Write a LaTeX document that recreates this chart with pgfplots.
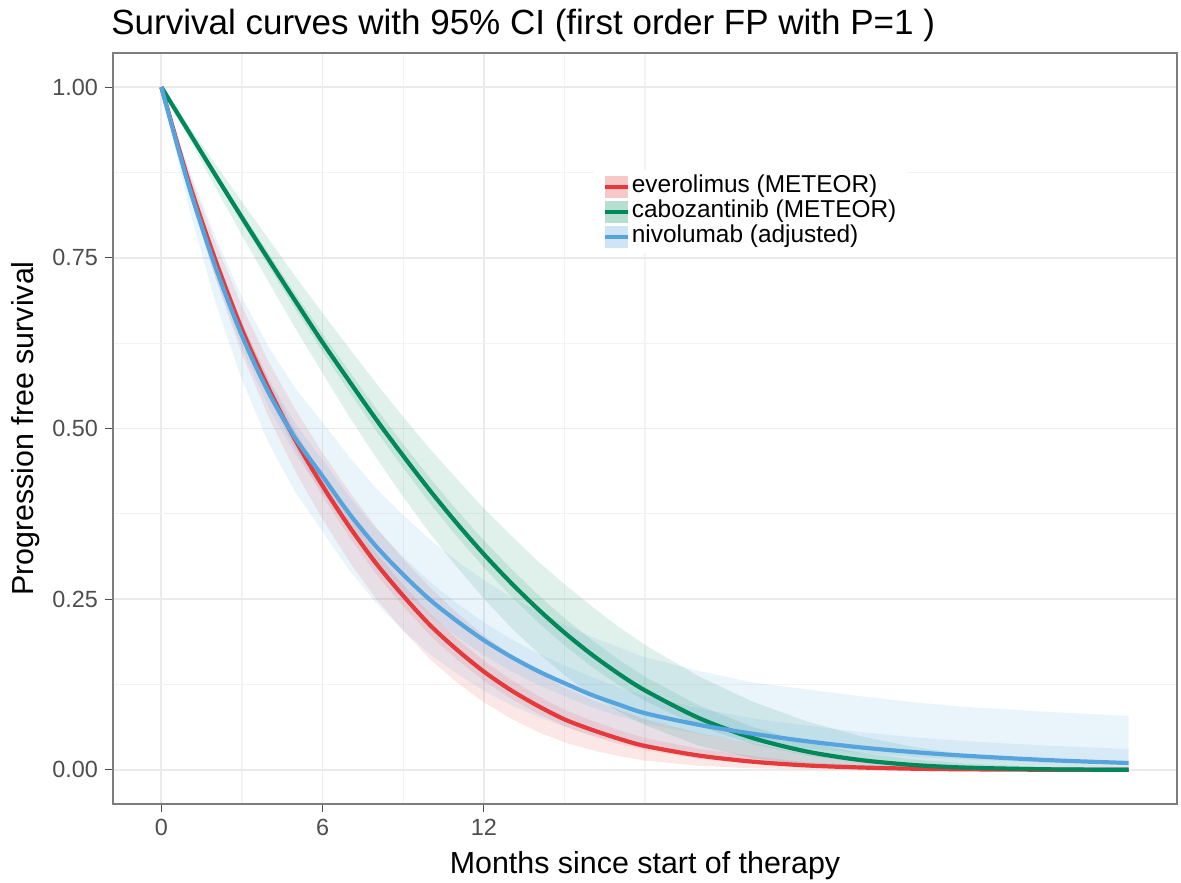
\documentclass[border=0pt]{standalone}
\usepackage{fontspec}
\setmainfont{Liberation Sans}
\usepackage{pgfplots}
\usepackage{pgfplotstable}
\pgfplotsset{compat=1.18}

\definecolor{cred}{RGB}{230,57,60}
\definecolor{cgreen}{RGB}{0,135,90}
\definecolor{cblue}{RGB}{86,164,221}
\definecolor{gridc}{RGB}{235,235,235}
\definecolor{gridm}{RGB}{243,243,243}
\definecolor{tickc}{RGB}{77,77,77}
\definecolor{borderc}{RGB}{125,125,125}

% fitted survival, months
\pgfplotstableread{
t evero cabo nivo
0 1 1 1
1 .864 .936 .858
2 .748 .872 .738
3 .645 .809 .636
4 .558 .747 .552
5 .482 .686 .485
6 .416 .626 .430
7 .356 .569 .375
8 .302 .513 .327
9 .255 .460 .286
10 .212 .409 .249
11 .176 .361 .218
12 .144 .316 .190
13 .117 .2745 .166
14 .094 .2361 .145
15 .074 .2011 .127
16 .059 .1695 .110
17 .046 .1413 .096
18 .035 .1164 .083
20 .021 .0760 .066
22 .012 .0468 .053
24 .0065 .0270 .042
26 .0035 .0145 .033
28 .0017 .0071 .026
30 .0008 .0032 .0205
33 .0002 .0008 .0143
36 .0001 .0001 .010
}\surv

% ribbons as closed outlines: upper bound forward, lower bound back
% o = wide band, i = narrow band
\pgfplotstableread{
x o i
0 1 1
1 .878 .8682
2 .773 .7555
3 .679 .6552
4 .597 .570
5 .527 .4955
6 .464 .4304
7 .407 .3713
8 .355 .3179
9 .309 .2712
10 .267 .2285
11 .230 .1922
12 .197 .1599
13 .169 .1326
14 .144 .109
15 .121 .0881
16 .1037 .0724
17 .0883 .0587
18 .0740 .0467
20 .0539 .0309
22 .0395 .0203
24 .022 .0112
26 .015 .007
28 .010 .0042
30 .006 .0024
33 .003 .0010
36 .0015 .0005
36 0 .0001
33 0 .0001
30 0 .0006
28 0 .0012
26 .0002 .0025
24 .0008 .0048
22 .0024 .0091
20 .0060 .0165
18 .0135 .0290
17 .0203 .0382
16 .0292 .0501
15 .0403 .0639
14 .0559 .0826
13 .0754 .1045
12 .099 .1305
11 .128 .1616
10 .162 .197
9 .204 .2397
8 .250 .2864
7 .305 .3407
6 .367 .4013
5 .436 .4682
4 .516 .5454
3 .609 .6342
2 .721 .7399
1 .848 .8592
0 1 1
}\everoband

\pgfplotstableread{
x o i
0 1 1
1 .944 .938
2 .888 .8768
3 .832 .8159
4 .777 .756
5 .722 .6968
6 .669 .6389
7 .617 .5834
8 .566 .5289
9 .517 .4771
10 .470 .4273
11 .426 .3805
12 .383 .3361
13 .344 .2954
14 .306 .2571
15 .272 .2224
16 .240 .1907
17 .210 .1619
18 .183 .1364
20 .137 .0943
22 .100 .0628
24 .0713 .0403
26 .0495 .025
28 .0335 .0150
30 .0221 .0089
33 .0112 .0039
36 .0054 .0017
36 0 .0001
33 0 .0006
30 .0002 .0023
28 .0008 .0052
26 .0026 .0109
24 .0072 .0211
22 .0170 .0379
20 .0353 .0638
18 .0655 .1011
17 .0859 .1248
16 .110 .1517
15 .139 .1825
14 .172 .2169
13 .209 .2549
12 .251 .2965
11 .297 .3418
10 .346 .3901
9 .400 .442
8 .457 .4962
7 .517 .5534
6 .581 .6125
5 .646 .674
4 .714 .7371
3 .783 .8012
2 .854 .8666
1 .927 .933
0 1 1
}\caboband

\pgfplotstableread{
x o i
0 1 1
1 .883 .866
2 .782 .751
3 .692 .653
4 .619 .572
5 .558 .507
6 .509 .454
7 .458 .400
8 .412 .353
9 .373 .312
10 .337 .275
11 .306 .244
12 .278 .216
13 .254 .192
14 .232 .171
15 .213 .153
16 .195 .136
17 .180 .121
18 .165 .108
20 .145 .090
22 .128 .0755
24 .118 .0648
26 .108 .0555
28 .099 .0479
30 .092 .042
33 .085 .0355
36 .079 .0307
36 .0001 .0071
33 .0005 .0102
30 .0014 .0148
28 .0027 .019
26 .0048 .0245
24 .0083 .0319
22 .0137 .0412
20 .0211 .0525
18 .0322 .068
17 .0408 .079
16 .0508 .092
15 .0636 .108
14 .078 .125
13 .095 .145
12 .116 .168
11 .141 .195
10 .169 .225
9 .204 .261
8 .244 .302
7 .292 .350
6 .349 .406
5 .406 .461
4 .478 .530
3 .571 .617
2 .686 .722
1 .827 .849
0 1 1
}\nivoband

\begin{document}
\begin{tikzpicture}
\path[use as bounding box] (0,0) rectangle (590.5pt,441pt);
\begin{axis}[
  name=ax, at={(56.5pt,39pt)}, anchor=south west,
  scale only axis, width=532pt, height=375.5pt,
  xmin=-1.8, xmax=37.8, ymin=-0.05, ymax=1.05,
  xtick={0,6,12}, xticklabels={0,6,12},
  minor xtick={3,9,15,18},
  ytick={0,0.25,0.5,0.75,1}, yticklabels={0.00,0.25,0.50,0.75,1.00},
  minor ytick={0.125,0.375,0.625,0.875},
  grid=both,
  major grid style={draw=gridc, line width=0.9pt},
  minor grid style={draw=gridm, line width=0.6pt},
  minor tick length=0pt,
  major tick length=4pt,
  tick align=outside, tick pos=left,
  tick style={draw=tickc, line width=0.6pt},
  axis line style={draw=borderc, line width=0.7pt},
  ticklabel style={font=\fontsize{11.7}{12}\selectfont, text=tickc},
  legend style={at={(0.452,0.8447)}, anchor=north west, draw=none, fill=white,
    inner xsep=4.5pt, inner ysep=2pt, row sep=0pt,
    font=\fontsize{12.2}{12.5}\selectfont,
    nodes={inner xsep=0.8pt, inner ysep=0pt, text height=9pt, text depth=3.5pt}},
  legend cell align=left,
]
\addplot[fill=cred, fill opacity=0.12, draw=none, forget plot] table[x=x,y=o]{\everoband};
\addplot[fill=cred, fill opacity=0.12, draw=none, forget plot] table[x=x,y=i]{\everoband};
\addplot[fill=cgreen, fill opacity=0.12, draw=none, forget plot] table[x=x,y=o]{\caboband};
\addplot[fill=cgreen, fill opacity=0.12, draw=none, forget plot] table[x=x,y=i]{\caboband};
\addplot[fill=cblue, fill opacity=0.12, draw=none, forget plot] table[x=x,y=o]{\nivoband};
\addplot[fill=cblue, fill opacity=0.12, draw=none, forget plot] table[x=x,y=i]{\nivoband};

\addplot[cred, line width=2.1pt, smooth, forget plot] table[x=t,y=evero]{\surv};
\addplot[cgreen, line width=2.1pt, smooth, forget plot] table[x=t,y=cabo]{\surv};
\addplot[cblue, line width=2.1pt, smooth, forget plot] table[x=t,y=nivo]{\surv};

\addlegendimage{legend image code/.code={
  \path[fill=cred, fill opacity=0.28, draw=none] (0pt,-5.5pt) rectangle (11.5pt,5.5pt);
  \path[draw=cred, line width=2pt] (0pt,0pt) -- (11.5pt,0pt);}}
\addlegendentry{everolimus (METEOR)}
\addlegendimage{legend image code/.code={
  \path[fill=cgreen, fill opacity=0.28, draw=none] (0pt,-5.5pt) rectangle (11.5pt,5.5pt);
  \path[draw=cgreen, line width=2pt] (0pt,0pt) -- (11.5pt,0pt);}}
\addlegendentry{cabozantinib (METEOR)}
\addlegendimage{legend image code/.code={
  \path[fill=cblue, fill opacity=0.28, draw=none] (0pt,-5.5pt) rectangle (11.5pt,5.5pt);
  \path[draw=cblue, line width=2pt] (0pt,0pt) -- (11.5pt,0pt);}}
\addlegendentry{nivolumab (adjusted)}
\end{axis}
\node[anchor=base west, font=\fontsize{17.5}{18}\selectfont, inner sep=0pt]
  at ([xshift=-1pt, yshift=9pt]ax.north west) {Survival curves with 95\% CI (first order FP with P=1 )};
\node[anchor=base, font=\fontsize{15.2}{16}\selectfont, inner sep=0pt]
  at ([yshift=-34.5pt]ax.south) {Months since start of therapy};
\node[anchor=base, rotate=90, font=\fontsize{15.2}{16}\selectfont, inner sep=0pt]
  at ([xshift=-39.5pt]ax.west) {Progression free survival};
\end{tikzpicture}
\end{document}
